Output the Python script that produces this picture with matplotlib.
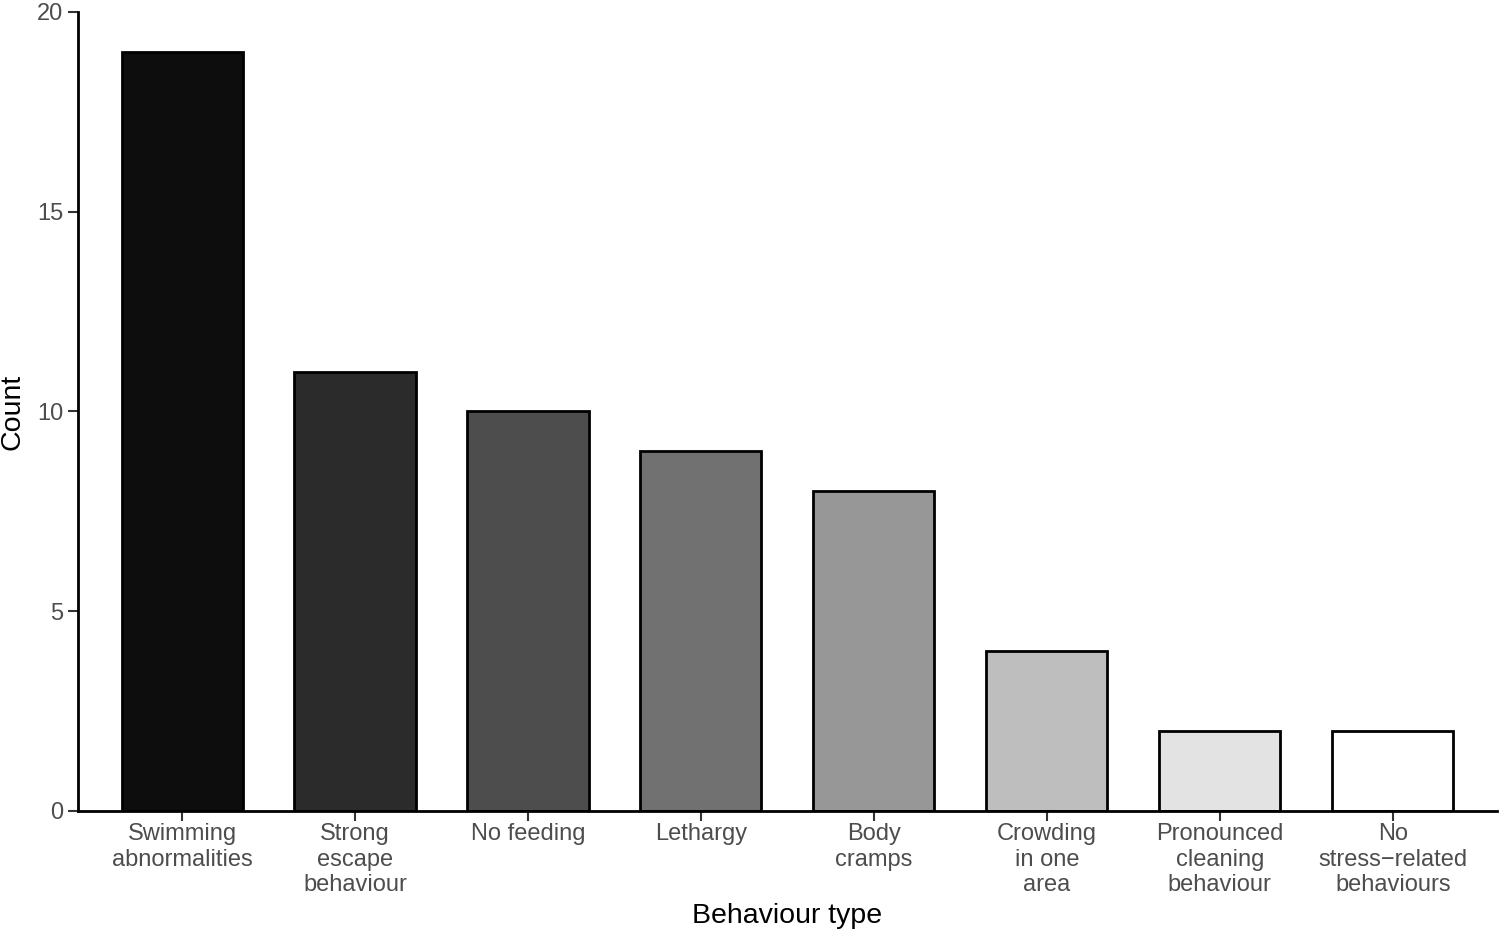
import matplotlib
matplotlib.use("Agg")
import matplotlib.pyplot as plt
import numpy as np

''' Dados '''
behaviours = ["Swimming\nabnormalities", "Strong\nescape\nbehaviour", "No feeding",
              "Lethargy", "Body\ncramps", "Crowding\nin one\narea",
              "Pronounced\ncleaning\nbehaviour", "No\nstress\u2212related\nbehaviours"]
counts = [19, 11, 10, 9, 8, 4, 2, 2]
fills = ["#0d0d0d", "#2b2b2b", "#4d4d4d", "#717171", "#979797", "#bebebe", "#e3e3e3", "#ffffff"]

plt.rcParams['font.family'] = ['Liberation Sans', 'DejaVu Sans']

fig = plt.figure(figsize=(15, 9.34), dpi=100)
ax = fig.add_axes([0.0522, 0.1317, 0.9455, 0.8555])

x = np.arange(1, len(counts) + 1)
ax.bar(x, counts, width=0.7, color=fills, edgecolor="black", linewidth=2, zorder=2)

ax.set_xlim(0.4, len(counts) + 0.6)
ax.set_ylim(0, 20)
ax.set_xticks(x)
ax.set_xticklabels(behaviours, fontsize=17, color="#4d4d4d", linespacing=1.2)
ax.set_yticks([0, 5, 10, 15, 20])
ax.tick_params(axis='y', labelsize=17, labelcolor="#4d4d4d", pad=4)
ax.tick_params(axis='x', pad=2)
ax.tick_params(length=7, width=1.5, color="#333333")

for s in ["top", "right"]:
    ax.spines[s].set_visible(False)
for s in ["left", "bottom"]:
    ax.spines[s].set_linewidth(2)
    ax.spines[s].set_color("black")

ax.set_xlabel("Behaviour type", fontsize=20.5, labelpad=5)
ax.set_ylabel("Count", fontsize=20.5, labelpad=8)

fig.savefig("out.png", dpi=100)
